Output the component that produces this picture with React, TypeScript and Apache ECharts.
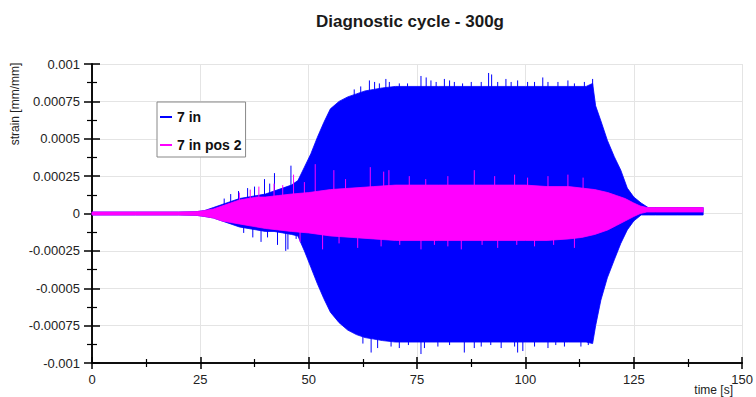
import React, { useEffect, useRef } from "react";
import * as echarts from "echarts";

// ---- data ----
const titleText = "Diagnostic cycle - 300g";
const yName = "strain [mm/mm]";
const xName = "time [s]";
const seriesNames = ["7 in", "7 in pos 2"];

// envelope of "7 in" (blue)
const blueT = [0, 10, 20, 24, 26, 28, 30, 32, 34, 36, 38, 40, 42, 44, 46, 47.5, 49, 50.5, 52, 53.5, 55, 57, 59, 61, 63, 65, 67, 70, 80, 90, 100, 110, 114, 115.5, 116.2, 117.4, 118.9, 120.5, 122, 123.5, 125, 126.7, 128.3, 130, 135, 141];
const blueHi = [0.00001, 0.00001, 0.00001, 0.000012, 0.00002, 0.00004, 0.00006, 0.00008, 0.0001, 0.00011, 0.00012, 0.00013, 0.00015, 0.00017, 0.00019, 0.00022, 0.00031, 0.0004, 0.00051, 0.00061, 0.0007, 0.00075, 0.00078, 0.0008, 0.00082, 0.00083, 0.00084, 0.00085, 0.00085, 0.00085, 0.00085, 0.00085, 0.00085, 0.00087, 0.00072, 0.00062, 0.00049, 0.00038, 0.00029, 0.00017, 0.00011, 0.00007, 0.00004, 0.00004, 0.00004, 0.00004];
const blueLo = [-0.00001, -0.00001, -0.00001, -0.000012, -0.00002, -0.00003, -0.00005, -0.00007, -0.00009, -0.0001, -0.00011, -0.00012, -0.00012, -0.00013, -0.00014, -0.00015, -0.00025, -0.00036, -0.00047, -0.00057, -0.00066, -0.00073, -0.00078, -0.00081, -0.00083, -0.00084, -0.00085, -0.00086, -0.00086, -0.00086, -0.00086, -0.00086, -0.00086, -0.00087, -0.00075, -0.00058, -0.00043, -0.00031, -0.0002, -0.00011, -0.00005, -0.00001, -0.00001, -0.00001, -0.00001, -0.00001];

// envelope of "7 in pos 2" (magenta)
const magT = [0, 10, 20, 24, 26, 28, 30, 32, 34, 36, 38, 40, 43, 46, 50, 55, 60, 65, 70, 80, 90, 100, 105, 110, 113, 116, 119, 121, 123, 125, 126.5, 128, 130, 135, 141];
const magHi = [0.00001, 0.00001, 0.00001, 0.000012, 0.00002, 0.00003, 0.00005, 0.00007, 0.00009, 0.0001, 0.00011, 0.00011, 0.00012, 0.00013, 0.00014, 0.00016, 0.00017, 0.00018, 0.00019, 0.00019, 0.00019, 0.00019, 0.00018, 0.00018, 0.00017, 0.00016, 0.00014, 0.00012, 0.0001, 0.00007, 0.00005, 0.00004, 0.00004, 0.00004, 0.00004];
const magLo = [-0.00001, -0.00001, -0.00001, -0.000012, -0.00002, -0.00003, -0.00005, -0.00006, -0.00007, -0.00008, -0.00009, -0.0001, -0.00011, -0.00012, -0.00013, -0.00015, -0.00016, -0.00017, -0.00018, -0.00018, -0.00018, -0.00018, -0.00018, -0.00017, -0.00016, -0.00014, -0.00011, -0.00008, -0.00005, -0.00002, 0, 0.00001, 0.00001, 0.00001, 0.00001];

// isolated peaks sticking out of the envelopes
const blueSpikeT = [30.5, 32, 33.8, 35.9, 37.5, 39.8, 41, 42.1, 44.7, 45.9, 47.8, 35, 37.1, 39, 40.5, 42.8, 45.2, 47.1, 60.5, 62, 64, 65.2, 66.3, 67.8, 68.6, 70.9, 72.8, 75.9, 77.1, 78.2, 79.4, 81.3, 82.5, 83.6, 85.5, 87.5, 89.8, 91.5, 92.2, 93.6, 95.5, 96.7, 98.2, 100.5, 102.1, 104, 105.2, 107.5, 109.8, 111.3, 113.6, 115.5, 62.5, 64.4, 65.9, 69, 70.9, 73, 75.9, 76.7, 79.8, 82.5, 85.9, 88.2, 89.8, 92, 94.4, 97.5, 98.2, 99.4, 102.1, 105.2, 107, 109, 112.8, 114.5];
const blueSpikeV = [0.0001, 0.00013, 0.00015, 0.00017, 0.00018, 0.00023, 0.0002, 0.00027, -0.00025, 0.00032, 0.00023, -0.00013, -0.00016, -0.00019, -0.00016, -0.00021, -0.00024, -0.00017, 0.00083, 0.00085, 0.00089, 0.00088, 0.00087, 0.0009, 0.00088, 0.00087, 0.00087, 0.00092, 0.00091, 0.00089, 0.00088, 0.0009, 0.00089, 0.00088, 0.00087, 0.00088, 0.00088, 0.00094, 0.00093, 0.00088, 0.0009, 0.00088, 0.00089, 0.00088, 0.00088, 0.00091, 0.00088, 0.00088, 0.00089, 0.00087, 0.00088, 0.0009, -0.00087, -0.00093, -0.0009, -0.00089, -0.0009, -0.00088, -0.00094, -0.0009, -0.00089, -0.00088, -0.00093, -0.0009, -0.00089, -0.00088, -0.0009, -0.00089, -0.00093, -0.00092, -0.00089, -0.0009, -0.00088, -0.00089, -0.00089, -0.00088];
const magSpikeT = [34, 36.5, 38.5, 42, 44, 46.5, 49, 51.5, 55.8, 58.5, 64.2, 67.3, 68.5, 73.2, 77, 82.1, 88.2, 92.9, 97.5, 100.5, 105.2, 109.8, 113.3, 48, 53.2, 57, 61.3, 66.7, 71, 75.9, 79, 82.1, 85.2, 90, 93.6, 98, 102.1, 106.5, 111.3];
const magSpikeV = [0.00014, 0.00016, 0.00018, 0.0002, 0.00019, 0.00026, 0.00021, 0.00033, 0.00029, 0.00023, 0.00031, 0.00028, 0.00029, 0.00025, 0.00023, 0.00025, 0.00029, 0.00025, 0.00026, 0.00024, 0.00025, 0.00026, 0.00024, -0.00019, -0.00024, -0.0002, -0.00023, -0.00022, -0.00021, -0.00024, -0.00021, -0.00022, -0.00024, -0.00021, -0.00023, -0.00021, -0.00022, -0.00021, -0.00023];

const BLUE = "#0000ff";
const MAGENTA = "#ff00ff";
const FONT = "'Liberation Sans', Arial, sans-serif";

function bandSeries(name: string, t: number[], hi: number[], lo: number[], color: string) {
  return {
    type: "custom",
    name,
    data: [[t[0], hi[0]]],
    itemStyle: { color },
    silent: true,
    renderItem: (_p: any, api: any) => {
      const pts: number[][] = [];
      for (let i = 0; i < t.length; i++) pts.push(api.coord([t[i], hi[i]]));
      for (let i = t.length - 1; i >= 0; i--) pts.push(api.coord([t[i], lo[i]]));
      return { type: "polygon", shape: { points: pts }, style: { fill: color, stroke: color, lineWidth: 0.8 } };
    },
  };
}

function spikeSeries(name: string, t: number[], v: number[], color: string) {
  return {
    type: "custom",
    name,
    data: t.map((x, i) => [x, v[i]]),
    silent: true,
    renderItem: (_p: any, api: any) => {
      const x = api.value(0);
      const p0 = api.coord([x, 0]);
      const p1 = api.coord([x, api.value(1)]);
      return { type: "line", shape: { x1: p0[0], y1: p0[1], x2: p1[0], y2: p1[1] }, style: { stroke: color, lineWidth: 1 } };
    },
  };
}

export default function App() {
  const ref = useRef<HTMLDivElement>(null);
  useEffect(() => {
    const chart = echarts.init(ref.current!, undefined, { renderer: "svg" });
    const axisCommon = {
      type: "value",
      axisLine: { show: true, onZero: false, lineStyle: { color: "#000", width: 1.5 } },
    };
    chart.setOption({
      animation: false,
      backgroundColor: "#fff",
      title: {
        text: titleText,
        left: 405,
        top: 8,
        textAlign: "center",
        textStyle: { fontSize: 17, fontWeight: "bold", color: "#1a1a1a", fontFamily: FONT },
      },
      legend: {
        orient: "vertical",
        left: 157,
        top: 102,
        padding: [7, 4, 4, 3],
        itemGap: 12,
        itemWidth: 12,
        itemHeight: 2,
        borderColor: "#888",
        borderWidth: 1,
        backgroundColor: "#fff",
        textStyle: { fontSize: 14, fontWeight: "bold", color: "#111", fontFamily: FONT, lineHeight: 16 },
        data: [
          { name: seriesNames[0], icon: "rect", itemStyle: { color: BLUE } },
          { name: seriesNames[1], icon: "rect", itemStyle: { color: MAGENTA } },
        ],
      },
      grid: { left: 92, right: 13, top: 64, bottom: 34 },
      xAxis: [
        {
          ...axisCommon,
          min: 0,
          max: 150,
          interval: 25,
          position: "bottom",
          axisTick: { show: true, length: 6, lineStyle: { color: "#000", width: 1.5 } },
          minorTick: { show: true, splitNumber: 2, length: 4, lineStyle: { color: "#000", width: 1.2 } },
          axisLabel: { margin: 10, fontSize: 13, color: "#222", fontFamily: FONT },
          splitLine: { show: true, lineStyle: { color: "#e4e4e4" } },
        },
        {
          ...axisCommon,
          min: 0,
          max: 150,
          interval: 25,
          position: "bottom",
          axisTick: { show: true, inside: true, length: 6, lineStyle: { color: "#000", width: 1.5 } },
          minorTick: { show: true, splitNumber: 2, length: 4, lineStyle: { color: "#000", width: 1.2 } },
          axisLabel: { show: false },
          splitLine: { show: false },
        },
      ],
      yAxis: [
        {
          ...axisCommon,
          min: -0.001,
          max: 0.001,
          interval: 0.00025,
          position: "left",
          axisTick: { show: true, length: 8, lineStyle: { color: "#000", width: 1.5 } },
          minorTick: { show: true, splitNumber: 2, length: 5, lineStyle: { color: "#000", width: 1.2 } },
          axisLabel: {
            margin: 12,
            fontSize: 13,
            color: "#222",
            fontFamily: FONT,
            formatter: (v: number) => String(+v.toFixed(5)),
          },
          splitLine: { show: true, lineStyle: { color: "#e4e4e4" } },
        },
        {
          ...axisCommon,
          min: -0.001,
          max: 0.001,
          interval: 0.00025,
          position: "left",
          axisTick: { show: true, inside: true, length: 8, lineStyle: { color: "#000", width: 1.5 } },
          minorTick: { show: true, splitNumber: 2, length: 5, lineStyle: { color: "#000", width: 1.2 } },
          axisLabel: { show: false },
          splitLine: { show: false },
        },
      ],
      graphic: [
        {
          type: "text",
          x: 15,
          y: 104,
          rotation: Math.PI / 2,
          style: { text: yName, fontSize: 12, fill: "#222", fontFamily: FONT, textAlign: "center", textVerticalAlign: "middle" },
        },
        {
          type: "text",
          x: 733,
          y: 390,
          style: { text: xName, fontSize: 12, fill: "#222", fontFamily: FONT, textAlign: "right", textVerticalAlign: "middle" },
        },
      ],
      series: [
        bandSeries(seriesNames[0], blueT, blueHi, blueLo, BLUE),
        spikeSeries("blue peaks", blueSpikeT, blueSpikeV, BLUE),
        bandSeries(seriesNames[1], magT, magHi, magLo, MAGENTA),
        spikeSeries("magenta peaks", magSpikeT, magSpikeV, MAGENTA),
      ],
    });
    return () => chart.dispose();
  }, []);
  return <div ref={ref} style={{ width: 756, height: 397, position: "absolute", left: 0, top: 0 }} />;
}
